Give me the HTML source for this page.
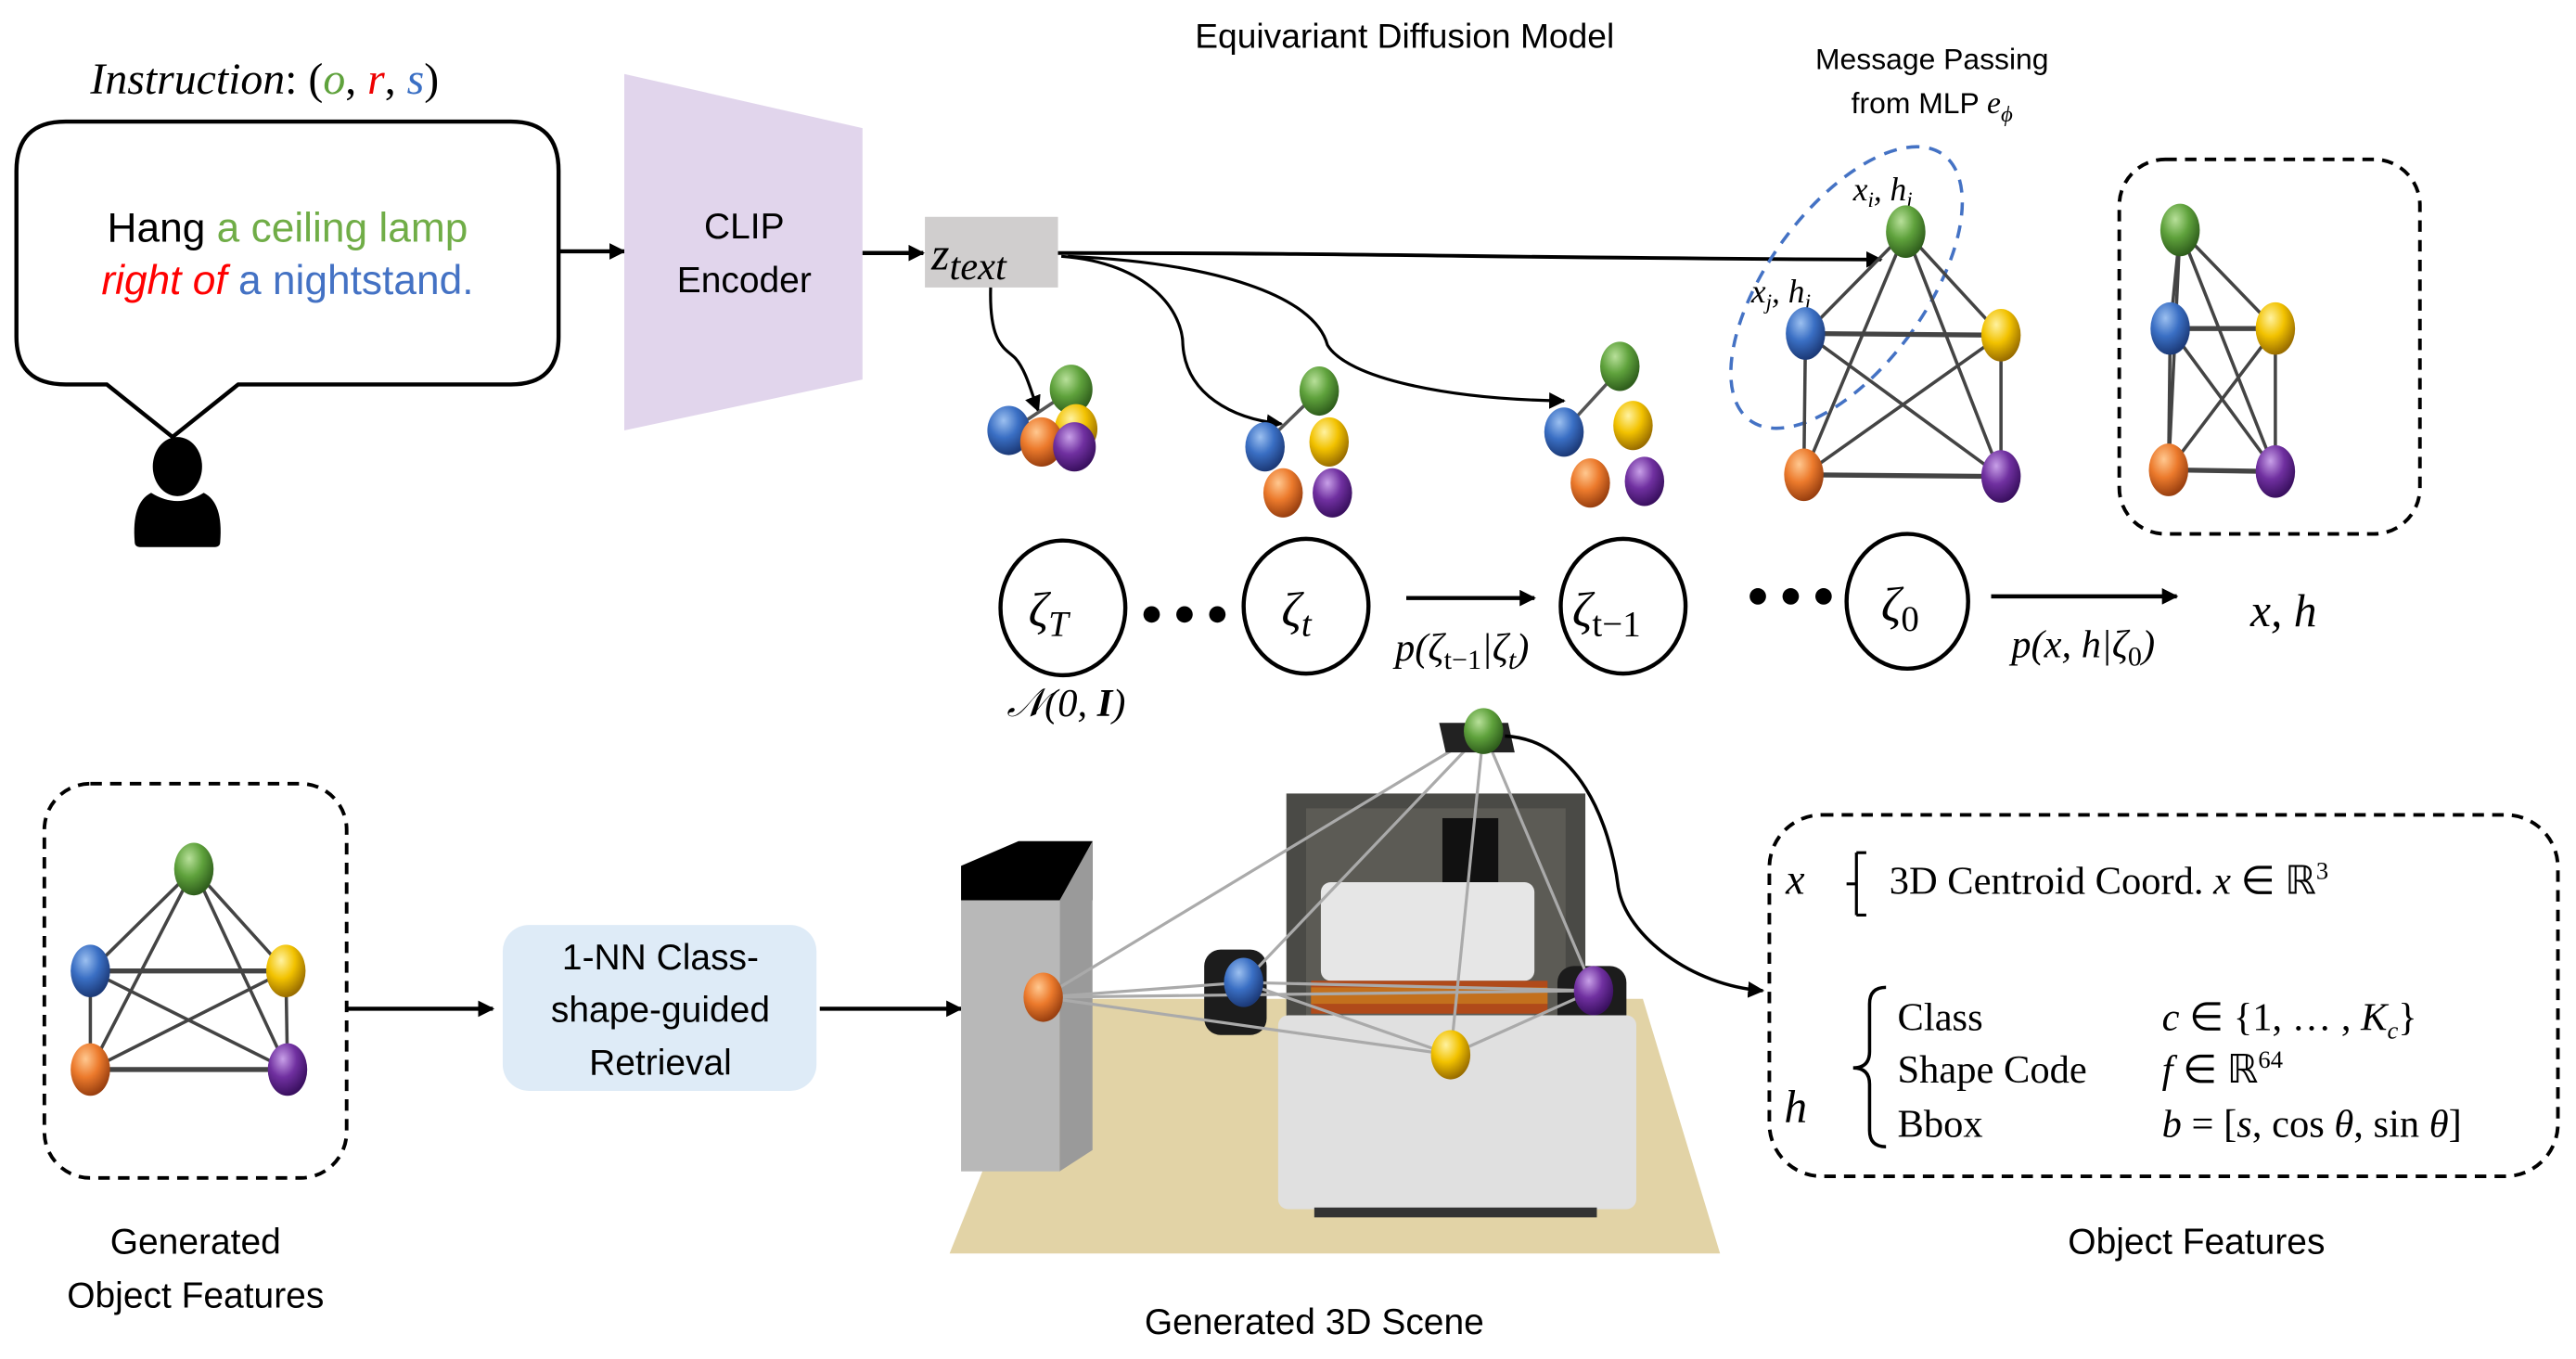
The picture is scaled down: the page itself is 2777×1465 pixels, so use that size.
<!DOCTYPE html>
<html><head><meta charset="utf-8"><style>
html,body{margin:0;padding:0;background:#fff;}
svg{display:block;}
.s{font-family:"Liberation Sans",sans-serif;}
.m{font-family:"Liberation Serif",serif;font-style:italic;}
.r{font-family:"Liberation Serif",serif;}
</style></head><body>
<svg width="2777" height="1465" viewBox="0 0 1568 827.2" xmlns="http://www.w3.org/2000/svg">
<defs>
<marker id="a" markerWidth="10" markerHeight="10" refX="9" refY="5" orient="auto" markerUnits="userSpaceOnUse"><path d="M0,0 L10,5 L0,10 z" fill="#000"/></marker>
<radialGradient id="gG" cx="0.38" cy="0.3" r="0.7"><stop offset="0" stop-color="#b8e09a"/><stop offset="0.5" stop-color="#5fa23c"/><stop offset="1" stop-color="#2f5e1c"/></radialGradient>
<radialGradient id="gB" cx="0.38" cy="0.3" r="0.7"><stop offset="0" stop-color="#9cc0f0"/><stop offset="0.5" stop-color="#3a6fc4"/><stop offset="1" stop-color="#1c3a78"/></radialGradient>
<radialGradient id="gY" cx="0.38" cy="0.3" r="0.7"><stop offset="0" stop-color="#fff2a0"/><stop offset="0.5" stop-color="#f2c200"/><stop offset="1" stop-color="#9a6e00"/></radialGradient>
<radialGradient id="gO" cx="0.38" cy="0.3" r="0.7"><stop offset="0" stop-color="#ffc890"/><stop offset="0.5" stop-color="#ec7a2c"/><stop offset="1" stop-color="#9a4010"/></radialGradient>
<radialGradient id="gP" cx="0.38" cy="0.3" r="0.7"><stop offset="0" stop-color="#c8a0e8"/><stop offset="0.5" stop-color="#7030a0"/><stop offset="1" stop-color="#3a1060"/></radialGradient>
</defs>

<text x="855" y="29" class="s" font-size="21" text-anchor="middle">Equivariant Diffusion Model</text>
<text x="55" y="57" class="m" font-size="27">Instruction<tspan font-style="normal">: (</tspan><tspan fill="#5fa23c">o</tspan><tspan font-style="normal">, </tspan><tspan fill="#e00">r</tspan><tspan font-style="normal">, </tspan><tspan fill="#3a6fc4">s</tspan><tspan font-style="normal">)</tspan></text>

<path d="M40,74 H311 Q340,74 340,104 V205 Q340,234 311,234 H145 L105,266 L65,234 H40 Q10,234 10,205 V104 Q10,74 40,74 Z" fill="#fff" stroke="#000" stroke-width="2.5"/>
<text x="175" y="147" class="s" font-size="25" text-anchor="middle">Hang <tspan fill="#70ad47">a ceiling lamp</tspan></text>
<text x="175" y="179" class="s" font-size="25" text-anchor="middle"><tspan fill="#ff0000" font-style="italic">right of</tspan> <tspan fill="#4472c4">a nightstand.</tspan></text>
<ellipse cx="108" cy="284" rx="15" ry="18" fill="#000"/>
<path d="M82,330 Q80,306 92,300 Q108,310 124,300 Q136,306 134,330 Q134,333 130,333 H86 Q82,333 82,330 Z" fill="#000"/>

<line x1="341" y1="153" x2="380" y2="153" stroke="#000" stroke-width="2.5" marker-end="url(#a)"/>
<polygon points="380,45 525,78 525,231 380,262" fill="#e1d5ec"/>
<text x="453" y="145" class="s" font-size="22" text-anchor="middle">CLIP</text>
<text x="453" y="178" class="s" font-size="22" text-anchor="middle">Encoder</text>
<line x1="525" y1="154" x2="562" y2="154" stroke="#000" stroke-width="2.5" marker-end="url(#a)"/>
<rect x="563" y="132" width="81" height="43" fill="#d0cece"/>
<text x="567" y="164" class="m" font-size="28">z<tspan font-size="24" dy="6">text</tspan></text>

<path d="M644,154 C850,154 900,157 1145,158" fill="none" stroke="#000" stroke-width="2.2" marker-end="url(#a)"/>
<path d="M603,175 C602,210 612,212 618,218 C625,226 628,240 632,250" fill="none" stroke="#000" stroke-width="1.8" marker-end="url(#a)"/>
<path d="M646,156 C700,160 720,190 720,210 C722,240 750,255 780,258" fill="none" stroke="#000" stroke-width="1.8" marker-end="url(#a)"/>
<path d="M650,156 C740,160 800,180 808,210 C820,230 880,243 952,244" fill="none" stroke="#000" stroke-width="1.8" marker-end="url(#a)"/>

<line x1="617" y1="261" x2="650" y2="239" stroke="#555" stroke-width="2"/>
<ellipse cx="652" cy="237" rx="13" ry="15" fill="url(#gG)"/>
<ellipse cx="655" cy="261" rx="13" ry="15" fill="url(#gY)"/>
<ellipse cx="614" cy="262" rx="13" ry="15" fill="url(#gB)"/>
<ellipse cx="634" cy="269" rx="13" ry="15" fill="url(#gO)"/>
<ellipse cx="654" cy="272" rx="13" ry="15" fill="url(#gP)"/>
<line x1="770" y1="270" x2="803" y2="238" stroke="#555" stroke-width="2"/>
<ellipse cx="803" cy="238" rx="12" ry="15" fill="url(#gG)"/>
<ellipse cx="770" cy="272" rx="12" ry="15" fill="url(#gB)"/>
<ellipse cx="809" cy="269" rx="12" ry="15" fill="url(#gY)"/>
<ellipse cx="781" cy="300" rx="12" ry="15" fill="url(#gO)"/>
<ellipse cx="811" cy="300" rx="12" ry="15" fill="url(#gP)"/>
<line x1="952" y1="262" x2="986" y2="225" stroke="#555" stroke-width="2"/>
<ellipse cx="986" cy="223" rx="12" ry="15" fill="url(#gG)"/>
<ellipse cx="952" cy="263" rx="12" ry="15" fill="url(#gB)"/>
<ellipse cx="994" cy="259" rx="12" ry="15" fill="url(#gY)"/>
<ellipse cx="968" cy="294" rx="12" ry="15" fill="url(#gO)"/>
<ellipse cx="1001" cy="293" rx="12" ry="15" fill="url(#gP)"/>

<text x="1176" y="42" class="s" font-size="18" text-anchor="middle">Message Passing</text>
<text x="1176" y="69" class="s" font-size="18" text-anchor="middle">from MLP <tspan class="m" font-size="19">e</tspan><tspan class="m" font-size="14" dy="5">ϕ</tspan></text>
<ellipse cx="1124" cy="175" rx="48" ry="100" transform="rotate(36 1124 175)" fill="none" stroke="#4472c4" stroke-width="2" stroke-dasharray="8,6"/>
<text x="1128" y="122" class="m" font-size="20">x<tspan font-size="13" dy="4">i</tspan><tspan dy="-4">, h</tspan><tspan font-size="13" dy="4">i</tspan></text>
<text x="1066" y="184" class="m" font-size="20">x<tspan font-size="13" dy="4">j</tspan><tspan dy="-4">, h</tspan><tspan font-size="13" dy="4">j</tspan></text>
<g stroke="#444" stroke-width="2">
<line x1="1160" y1="141" x2="1099" y2="203"/><line x1="1160" y1="141" x2="1218" y2="204"/><line x1="1160" y1="141" x2="1098" y2="289"/><line x1="1160" y1="141" x2="1218" y2="290"/>
<line x1="1099" y1="203" x2="1218" y2="204" stroke-width="3"/><line x1="1099" y1="203" x2="1098" y2="289"/><line x1="1099" y1="203" x2="1218" y2="290"/>
<line x1="1218" y1="204" x2="1098" y2="289"/><line x1="1218" y1="204" x2="1218" y2="290"/><line x1="1098" y1="289" x2="1218" y2="290" stroke-width="3"/>
</g>
<ellipse cx="1160" cy="141" rx="12" ry="16" fill="url(#gG)"/>
<ellipse cx="1099" cy="203" rx="12" ry="16" fill="url(#gB)"/>
<ellipse cx="1218" cy="204" rx="12" ry="16" fill="url(#gY)"/>
<ellipse cx="1098" cy="289" rx="12" ry="16" fill="url(#gO)"/>
<ellipse cx="1218" cy="290" rx="12" ry="16" fill="url(#gP)"/>

<rect x="1290" y="97" width="183" height="228" rx="28" fill="none" stroke="#000" stroke-width="2.2" stroke-dasharray="7,5"/>
<g stroke="#444" stroke-width="2">
<line x1="1327" y1="140" x2="1321" y2="200"/><line x1="1327" y1="140" x2="1385" y2="200"/><line x1="1327" y1="140" x2="1320" y2="286"/><line x1="1327" y1="140" x2="1385" y2="287"/>
<line x1="1321" y1="200" x2="1385" y2="200" stroke-width="3"/><line x1="1321" y1="200" x2="1320" y2="286"/><line x1="1321" y1="200" x2="1385" y2="287"/>
<line x1="1385" y1="200" x2="1320" y2="286"/><line x1="1385" y1="200" x2="1385" y2="287"/><line x1="1320" y1="286" x2="1385" y2="287" stroke-width="3"/>
</g>
<ellipse cx="1327" cy="140" rx="12" ry="16" fill="url(#gG)"/>
<ellipse cx="1321" cy="200" rx="12" ry="16" fill="url(#gB)"/>
<ellipse cx="1385" cy="200" rx="12" ry="16" fill="url(#gY)"/>
<ellipse cx="1320" cy="286" rx="12" ry="16" fill="url(#gO)"/>
<ellipse cx="1385" cy="287" rx="12" ry="16" fill="url(#gP)"/>

<g fill="none" stroke="#000" stroke-width="2.5">
<ellipse cx="647" cy="370" rx="38" ry="41"/>
<ellipse cx="795" cy="369" rx="38" ry="41"/>
<ellipse cx="988" cy="369" rx="38" ry="41"/>
<ellipse cx="1161" cy="366" rx="37" ry="41"/>
</g>
<g fill="#000"><circle cx="701" cy="374" r="5"/><circle cx="721" cy="374" r="5"/><circle cx="741" cy="374" r="5"/>
<circle cx="1070" cy="363" r="5"/><circle cx="1090" cy="363" r="5"/><circle cx="1110" cy="363" r="5"/></g>
<line x1="856" y1="364" x2="934" y2="364" stroke="#000" stroke-width="2.5" marker-end="url(#a)"/>
<line x1="1212" y1="363" x2="1325" y2="363" stroke="#000" stroke-width="2.5" marker-end="url(#a)"/>
<text x="626" y="381" class="m" font-size="30">ζ<tspan font-size="22" dy="6">T</tspan></text>
<text x="780" y="381" class="m" font-size="30">ζ<tspan font-size="22" dy="6">t</tspan></text>
<text x="957" y="381" class="m" font-size="30">ζ<tspan font-size="22" dy="6" font-style="normal">t−1</tspan></text>
<text x="1145" y="378" class="m" font-size="30">ζ<tspan font-size="22" dy="6" font-style="normal">0</tspan></text>
<text x="1390" y="381" class="m" font-size="28" text-anchor="middle">x, h</text>
<text x="890" y="402" class="m" font-size="24" text-anchor="middle">p(ζ<tspan font-size="17" dy="5" font-style="normal">t−1</tspan><tspan dy="-5">|ζ</tspan><tspan font-size="17" dy="5">t</tspan><tspan dy="-5">)</tspan></text>
<text x="1268" y="400" class="m" font-size="24" text-anchor="middle">p(x, h|ζ<tspan font-size="17" dy="5" font-style="normal">0</tspan><tspan dy="-5">)</tspan></text>
<text x="649" y="436" class="m" font-size="24" text-anchor="middle">𝒩(0, <tspan font-weight="bold">I</tspan>)</text>

<rect x="27" y="477" width="184" height="240" rx="28" fill="none" stroke="#000" stroke-width="2.2" stroke-dasharray="7,5"/>
<g stroke="#444" stroke-width="2">
<line x1="118" y1="529" x2="55" y2="591"/><line x1="118" y1="529" x2="174" y2="591"/><line x1="118" y1="529" x2="55" y2="651"/><line x1="118" y1="529" x2="175" y2="651"/>
<line x1="55" y1="591" x2="174" y2="591" stroke-width="3"/><line x1="55" y1="591" x2="55" y2="651"/><line x1="55" y1="591" x2="175" y2="651"/>
<line x1="174" y1="591" x2="55" y2="651"/><line x1="174" y1="591" x2="175" y2="651"/><line x1="55" y1="651" x2="175" y2="651" stroke-width="3"/>
</g>
<ellipse cx="118" cy="529" rx="12" ry="16" fill="url(#gG)"/>
<ellipse cx="55" cy="591" rx="12" ry="16" fill="url(#gB)"/>
<ellipse cx="174" cy="591" rx="12" ry="16" fill="url(#gY)"/>
<ellipse cx="55" cy="651" rx="12" ry="16" fill="url(#gO)"/>
<ellipse cx="175" cy="651" rx="12" ry="16" fill="url(#gP)"/>
<text x="119" y="763" class="s" font-size="22" text-anchor="middle">Generated</text>
<text x="119" y="796" class="s" font-size="22" text-anchor="middle">Object Features</text>

<line x1="211" y1="614" x2="300" y2="614" stroke="#000" stroke-width="2.5" marker-end="url(#a)"/>
<rect x="306" y="563" width="191" height="101" rx="16" fill="#deebf7"/>
<text x="402" y="590" class="s" font-size="22" text-anchor="middle">1-NN Class-</text>
<text x="402" y="622" class="s" font-size="22" text-anchor="middle">shape-guided</text>
<text x="402" y="654" class="s" font-size="22" text-anchor="middle">Retrieval</text>
<line x1="499" y1="614" x2="585" y2="614" stroke="#000" stroke-width="2.5" marker-end="url(#a)"/>

<polygon points="640,608 1000,608 1047,763 578,763" fill="#e2d3a6"/>
<rect x="783" y="483" width="182" height="170" fill="#4a4a46"/>
<rect x="795" y="492" width="158" height="160" fill="#5c5b55"/>
<rect x="878" y="498" width="34" height="46" fill="#111"/>
<rect x="733" y="578" width="38" height="52" rx="10" fill="#1c1c1c"/>
<rect x="948" y="588" width="42" height="50" rx="10" fill="#1c1c1c"/>
<rect x="804" y="537" width="130" height="60" rx="6" fill="#e6e6e6"/>
<rect x="798" y="597" width="144" height="20" fill="#b04a1a"/>
<rect x="798" y="601" width="144" height="10" fill="#d08a20" opacity="0.6"/>
<rect x="778" y="618" width="218" height="118" rx="6" fill="#e0e0e0"/>
<rect x="800" y="735" width="172" height="6" fill="#333"/>
<polygon points="585,527 620,512 665,512 665,548 585,548" fill="#000"/>
<rect x="585" y="548" width="60" height="165" fill="#b8b8b8"/>
<polygon points="645,548 665,512 665,700 645,713" fill="#9a9a9a"/>
<g stroke="#aaa" stroke-width="1.8">
<line x1="903" y1="445" x2="635" y2="607"/><line x1="903" y1="445" x2="757" y2="598"/><line x1="903" y1="445" x2="883" y2="642"/><line x1="903" y1="445" x2="970" y2="603"/>
<line x1="635" y1="607" x2="757" y2="598"/><line x1="635" y1="607" x2="970" y2="603"/><line x1="635" y1="607" x2="883" y2="642"/>
<line x1="757" y1="598" x2="970" y2="603"/><line x1="757" y1="598" x2="883" y2="642"/><line x1="970" y1="603" x2="883" y2="642"/>
</g>
<polygon points="876,440 918,440 922,458 880,458" fill="#222"/>
<ellipse cx="903" cy="445" rx="12" ry="14" fill="url(#gG)"/>
<ellipse cx="635" cy="607" rx="12" ry="15" fill="url(#gO)"/>
<ellipse cx="757" cy="598" rx="12" ry="15" fill="url(#gB)"/>
<ellipse cx="970" cy="603" rx="12" ry="15" fill="url(#gP)"/>
<ellipse cx="883" cy="642" rx="12" ry="15" fill="url(#gY)"/>
<path d="M916,448 C960,450 980,500 985,540 C990,570 1030,600 1073,603" fill="none" stroke="#000" stroke-width="2" marker-end="url(#a)"/>
<text x="800" y="812" class="s" font-size="22" text-anchor="middle">Generated 3D Scene</text>

<rect x="1077" y="496" width="480" height="220" rx="32" fill="none" stroke="#000" stroke-width="2.2" stroke-dasharray="7,5"/>
<text x="1087" y="544" class="m" font-size="26">x</text>
<path d="M1130,519 V557 M1130,538 H1124 M1130,519 H1136 M1130,557 H1136" fill="none" stroke="#000" stroke-width="1.8"/>
<text x="1150" y="544" class="r" font-size="24">3D Centroid Coord.  <tspan font-style="italic">x</tspan> ∈ ℝ<tspan font-size="15" dy="-9">3</tspan></text>
<text x="1086" y="683" class="m" font-size="28">h</text>
<path d="M1148,601 Q1138,601 1138,611 V640 Q1138,650 1128,650 Q1138,650 1138,660 V688 Q1138,698 1148,698" fill="none" stroke="#000" stroke-width="2"/>
<text x="1155" y="627" class="r" font-size="24">Class</text>
<text x="1155" y="659" class="r" font-size="24">Shape Code</text>
<text x="1155" y="692" class="r" font-size="24">Bbox</text>
<text x="1316" y="627" class="r" font-size="24"><tspan font-style="italic">c</tspan> ∈ {1, … , <tspan font-style="italic">K</tspan><tspan font-size="15" dy="5" font-style="italic">c</tspan><tspan dy="-5">}</tspan></text>
<text x="1316" y="659" class="r" font-size="24"><tspan font-style="italic">f</tspan> ∈ ℝ<tspan font-size="15" dy="-9">64</tspan></text>
<text x="1316" y="692" class="r" font-size="24"><tspan font-style="italic">b</tspan> = [<tspan font-style="italic">s</tspan>, cos <tspan font-style="italic">θ</tspan>, sin <tspan font-style="italic">θ</tspan>]</text>
<text x="1337" y="763" class="s" font-size="22" text-anchor="middle">Object Features</text>
</svg>
</body></html>
